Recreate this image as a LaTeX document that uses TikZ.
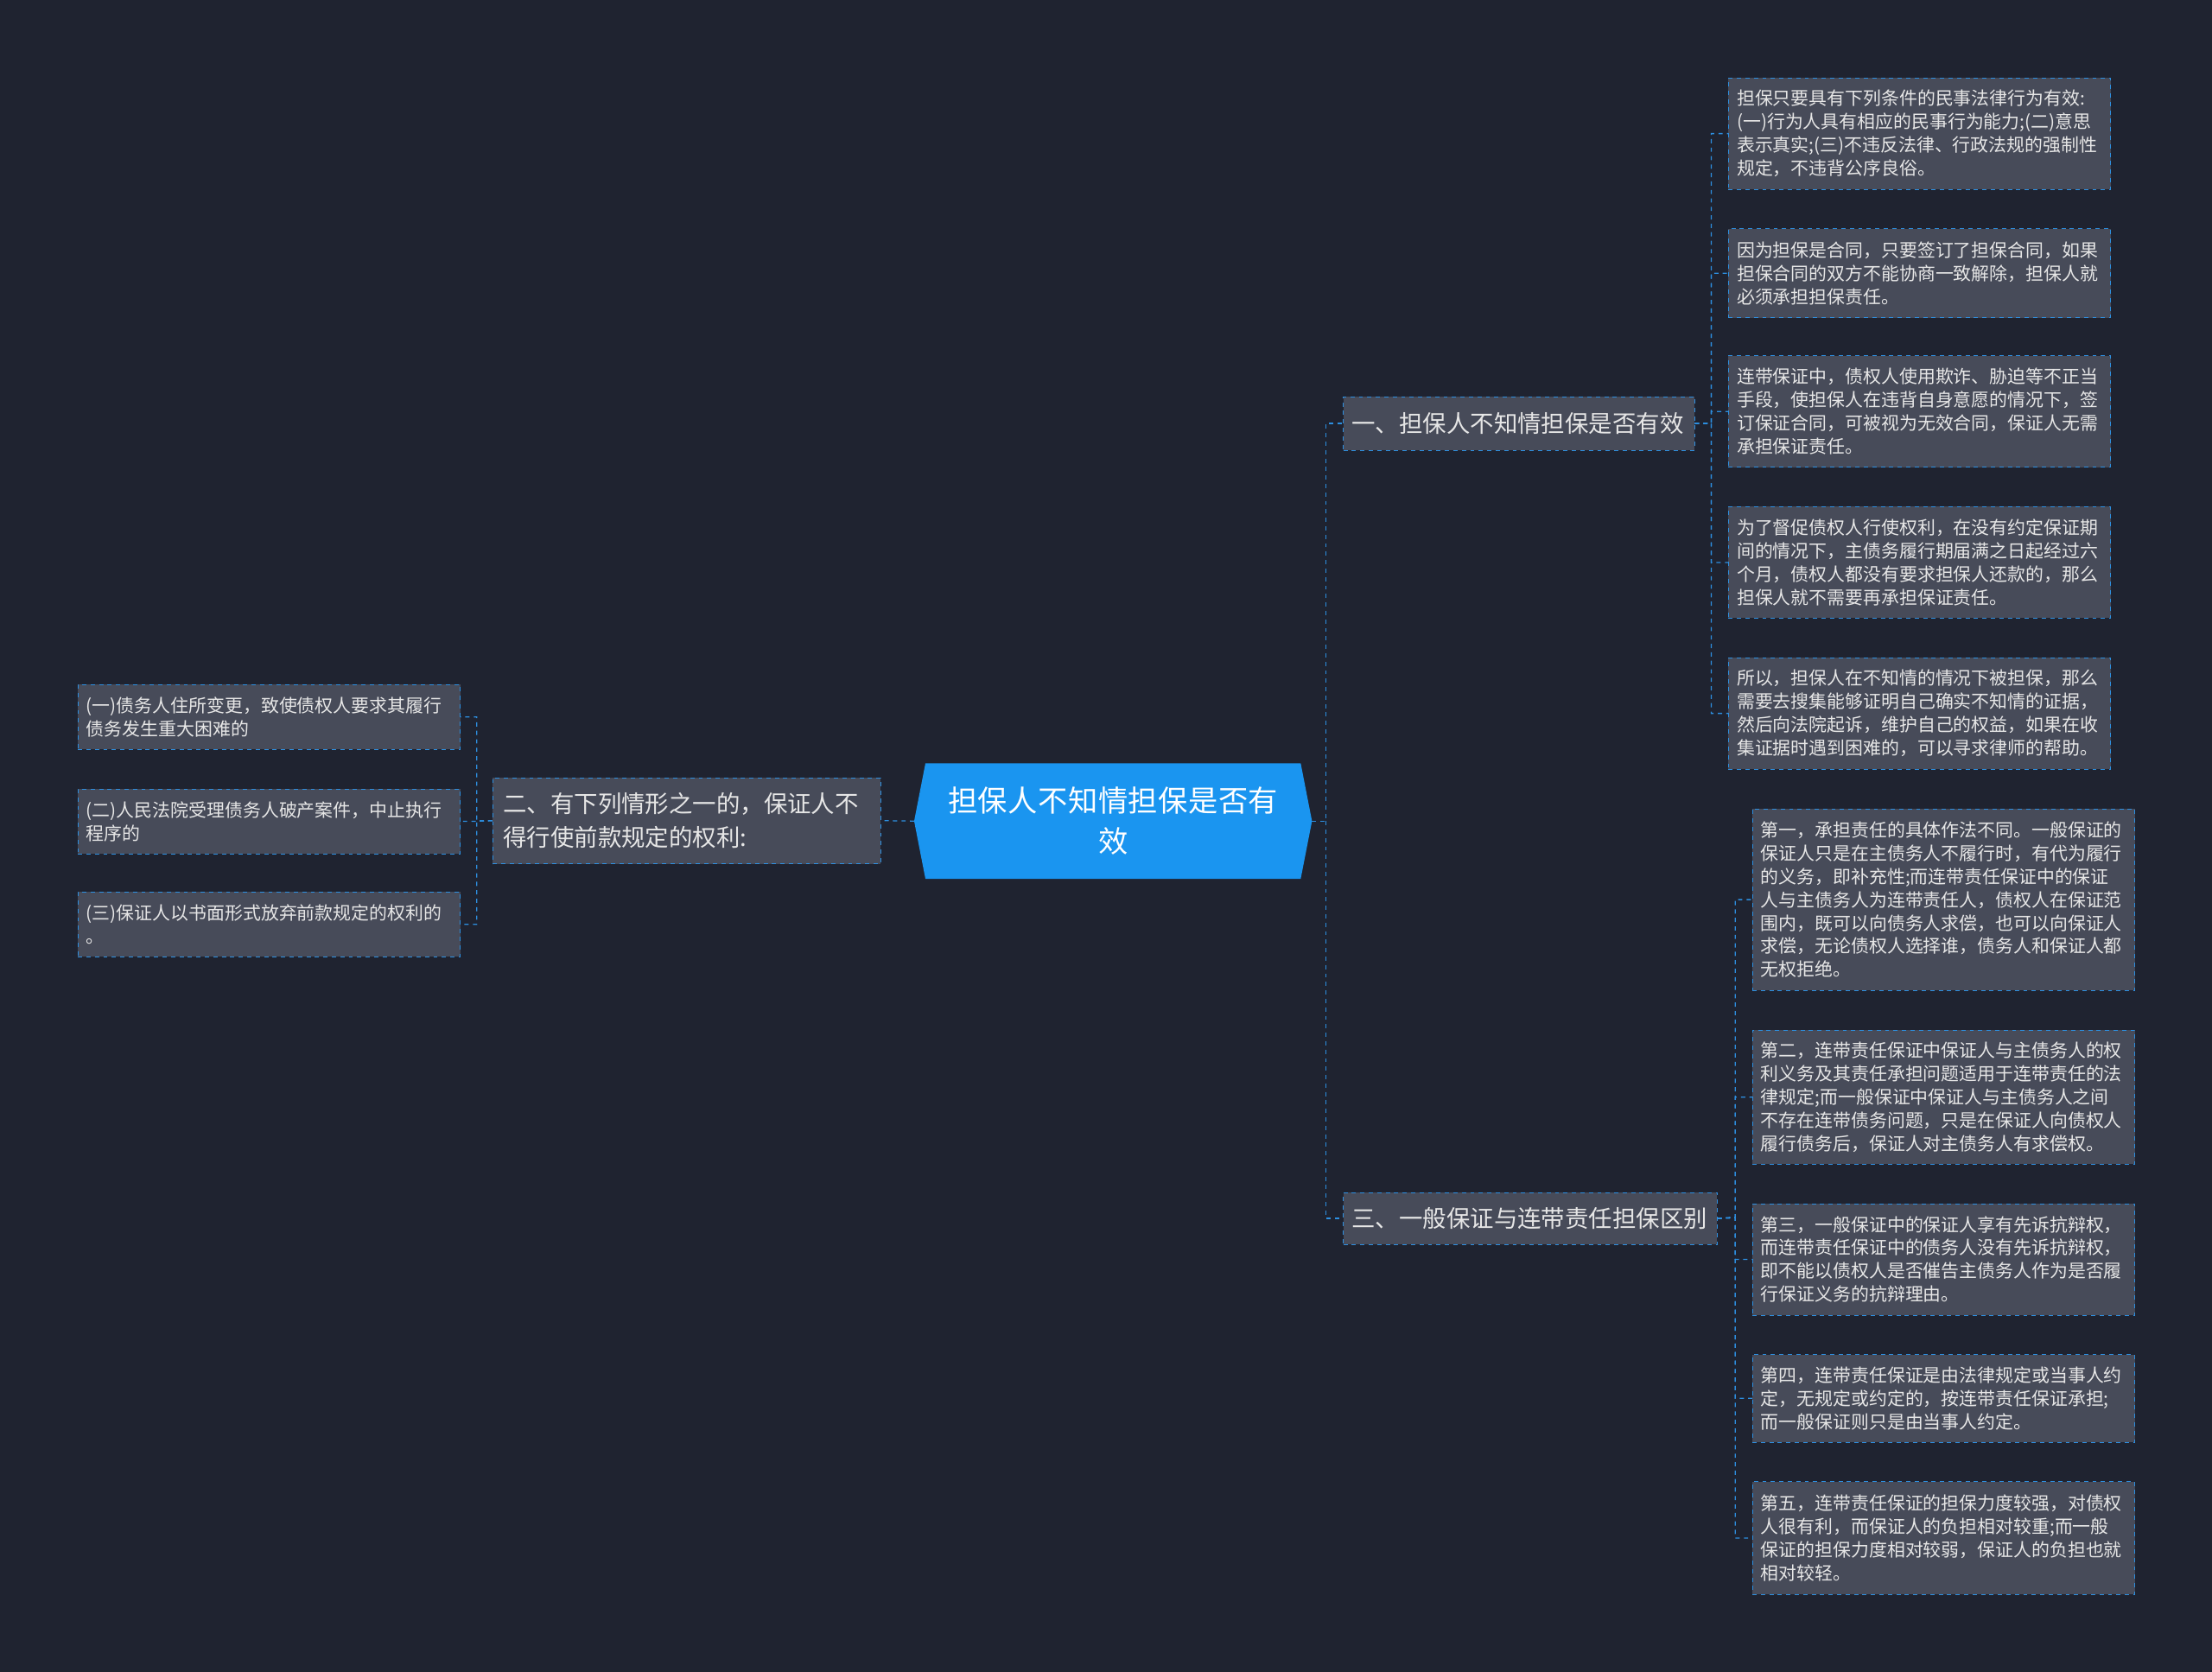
\documentclass[tikz,border=0pt]{standalone}
\usepackage{fontspec}
\setmainfont{Noto Sans CJK SC}
\XeTeXlinebreaklocale "zh"
\XeTeXlinebreakskip=0pt plus 1pt
\definecolor{bg}{HTML}{1F2330}
\definecolor{boxf}{HTML}{474B59}
\definecolor{ln}{HTML}{2D8FE0}
\definecolor{ctr}{HTML}{1A95F0}
\definecolor{tx}{HTML}{E6E6E6}
\begin{document}
\begin{tikzpicture}[x=1pt,y=-1pt,
 leaf/.style={draw=ln,dashed,fill=boxf,anchor=north west,text=tx,inner sep=0pt,
   minimum width=271pt,text width=259pt,align=left,
   font=\fontsize{12.8}{16.5}\selectfont},
 br/.style={draw=ln,dashed,fill=boxf,anchor=north west,text=tx,inner sep=0pt,align=left,
   font=\fontsize{16.8}{22}\selectfont},
 con/.style={draw=ln,dashed,line width=0.8pt}]
\fill[bg] (0,0) rectangle (1568,1185);
% centre
\fill[ctr] (656,541) -- (922,541) -- (930,582) -- (922,623) -- (656,623) -- (648,582) -- cycle;
\node[text=white,text width=260pt,align=center,font=\fontsize{21}{29}\selectfont] (c) at (789,582) {担保人不知情担保是否有\\效};
\coordinate (cr) at (930,582);
\coordinate (cl) at (648,582);
% branches
\node[br,minimum width=249pt,minimum height=38pt,text width=237pt] (b1) at (952,281) {一、担保人不知情担保是否有效};
\node[br,minimum width=275pt,minimum height=61pt,text width=260pt,font=\fontsize{16.8}{24}\selectfont] (b2) at (349,551) {二、有下列情形之一的，保证人不\\得行使前款规定的权利:};
\node[br,minimum width=265pt,minimum height=37pt,text width=253pt] (b3) at (952,845) {三、一般保证与连带责任担保区别};
% right top leaves
\node[leaf,minimum height=79pt] (l1) at (1225,55) {担保只要具有下列条件的民事法律行为有效:\\(一)行为人具有相应的民事行为能力;(二)意思\\表示真实;(三)不违反法律、行政法规的强制性\\规定，不违背公序良俗。};
\node[leaf,minimum height=63pt] (l2) at (1225,162) {因为担保是合同，只要签订了担保合同，如果\\担保合同的双方不能协商一致解除，担保人就\\必须承担担保责任。};
\node[leaf,minimum height=79pt] (l3) at (1225,252) {连带保证中，债权人使用欺诈、胁迫等不正当\\手段，使担保人在违背自身意愿的情况下，签\\订保证合同，可被视为无效合同，保证人无需\\承担保证责任。};
\node[leaf,minimum height=79pt] (l4) at (1225,359) {为了督促债权人行使权利，在没有约定保证期\\间的情况下，主债务履行期届满之日起经过六\\个月，债权人都没有要求担保人还款的，那么\\担保人就不需要再承担保证责任。};
\node[leaf,minimum height=79pt] (l5) at (1225,466) {所以，担保人在不知情的情况下被担保，那么\\需要去搜集能够证明自己确实不知情的证据，\\然后向法院起诉，维护自己的权益，如果在收\\集证据时遇到困难的，可以寻求律师的帮助。};
% right bottom leaves
\node[leaf,minimum height=129pt] (r1) at (1242,573) {第一，承担责任的具体作法不同。一般保证的\\保证人只是在主债务人不履行时，有代为履行\\的义务，即补充性;而连带责任保证中的保证\\人与主债务人为连带责任人，债权人在保证范\\围内，既可以向债务人求偿，也可以向保证人\\求偿，无论债权人选择谁，债务人和保证人都\\无权拒绝。};
\node[leaf,minimum height=95pt] (r2) at (1242,730) {第二，连带责任保证中保证人与主债务人的权\\利义务及其责任承担问题适用于连带责任的法\\律规定;而一般保证中保证人与主债务人之间\\不存在连带债务问题，只是在保证人向债权人\\履行债务后，保证人对主债务人有求偿权。};
\node[leaf,minimum height=79pt] (r3) at (1242,853) {第三，一般保证中的保证人享有先诉抗辩权，\\而连带责任保证中的债务人没有先诉抗辩权，\\即不能以债权人是否催告主债务人作为是否履\\行保证义务的抗辩理由。};
\node[leaf,minimum height=62pt] (r4) at (1242,960) {第四，连带责任保证是由法律规定或当事人约\\定，无规定或约定的，按连带责任保证承担;\\而一般保证则只是由当事人约定。};
\node[leaf,minimum height=80pt] (r5) at (1242,1050) {第五，连带责任保证的担保力度较强，对债权\\人很有利，而保证人的负担相对较重;而一般\\保证的担保力度相对较弱，保证人的负担也就\\相对较轻。};
% left leaves
\node[leaf,minimum height=46pt] (m1) at (55,485) {(一)债务人住所变更，致使债权人要求其履行\\债务发生重大困难的};
\node[leaf,minimum height=46pt] (m2) at (55,559) {(二)人民法院受理债务人破产案件，中止执行\\程序的};
\node[leaf,minimum height=46pt] (m3) at (55,632) {(三)保证人以书面形式放弃前款规定的权利的\\。};
% connectors
\draw[con] (cr) -- (940,582) |- (b1.west);
\draw[con] (940,582) |- (b3.west);
\draw[con] (cl) -- (b2.east);
\foreach \n in {l1,l2,l3,l4,l5} \draw[con] (b1.east) -- (1213,300) |- (\n.west);
\foreach \n in {r1,r2,r3,r4,r5} \draw[con] (b3.east) -- (1230,863) |- (\n.west);
\foreach \n in {m1,m2,m3} \draw[con] (b2.west) -- (338,582) |- (\n.east);
\end{tikzpicture}
\end{document}
